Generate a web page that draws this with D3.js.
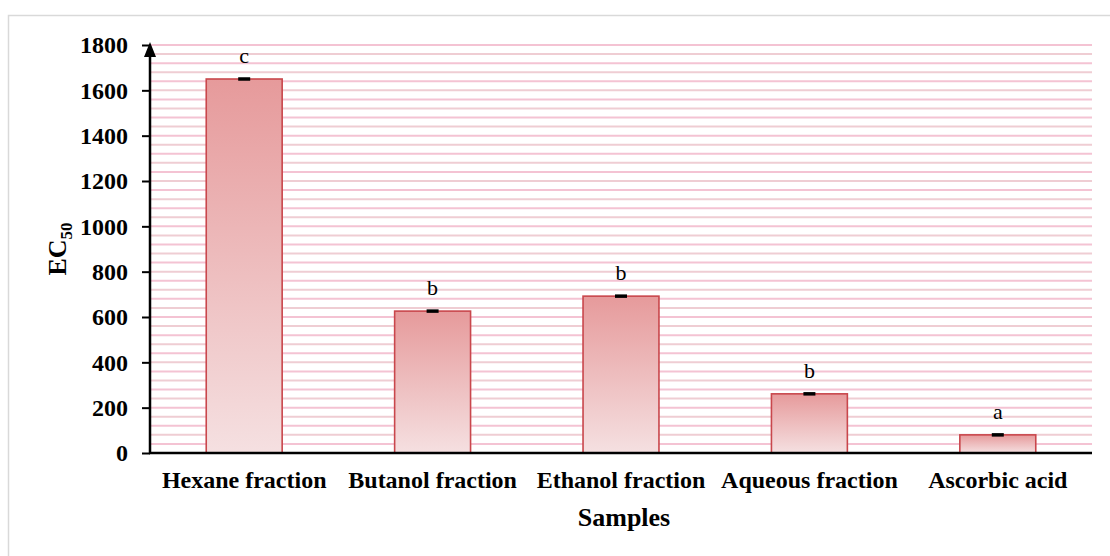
<!DOCTYPE html>
<html>
<head>
<meta charset="utf-8">
<script src="https://cdn.jsdelivr.net/npm/d3@7"></script>
<style>
  html, body { margin: 0; padding: 0; background: #fff; }
  svg { display: block; font-family: "Liberation Serif", "Times New Roman", serif; }
</style>
</head>
<body>
<svg id="chart" width="1110" height="556"></svg>
<script>
// Samples and their EC50 values with significance letters
const categories = ["Hexane fraction", "Butanol fraction", "Ethanol fraction", "Aqueous fraction", "Ascorbic acid"];
const values = [1650, 626, 692, 261, 80];
const letters = ["c", "b", "b", "b", "a"];
const yTicks = [0, 200, 400, 600, 800, 1000, 1200, 1400, 1600, 1800];
const gridStep = 40;

const svg = d3.select("#chart");
const m = { left: 150, right: 1092, top: 45, bottom: 453 };
const serif = "Liberation Serif, Times New Roman, serif";

// outer frame
svg.append("rect")
  .attr("x", 8.5).attr("y", 15.5)
  .attr("width", 1110).attr("height", 560)
  .attr("fill", "#fff").attr("stroke", "#d9d9d9").attr("stroke-width", 1.5);

const x = d3.scaleBand().domain(categories).range([m.left, m.right]).paddingInner(0.597).paddingOuter(0.2985);
const y = d3.scaleLinear().domain([0, 1800]).range([m.bottom, m.top]);

// gradient fill for bars
const defs = svg.append("defs");
const grad = defs.append("linearGradient").attr("id", "barGrad")
  .attr("x1", 0).attr("y1", 0).attr("x2", 0).attr("y2", 1);
grad.append("stop").attr("offset", "0%").attr("stop-color", "#e69a9b");
grad.append("stop").attr("offset", "100%").attr("stop-color", "#f5e0e1");

// horizontal gridlines every 40 units
const gridVals = d3.range(gridStep, 1800 + 1, gridStep);
svg.append("g").selectAll("line").data(gridVals).join("line")
  .attr("x1", m.left).attr("x2", m.right)
  .attr("y1", d => y(d)).attr("y2", d => y(d))
  .attr("stroke", (d, i) => i % 2 ? "#efcdd3" : "#f4c3d3")
  .attr("stroke-width", 2);

// bars
svg.append("g").selectAll("rect").data(categories).join("rect")
  .attr("x", d => x(d))
  .attr("y", (d, i) => y(values[i]))
  .attr("width", x.bandwidth())
  .attr("height", (d, i) => y(0) - y(values[i]))
  .attr("fill", "url(#barGrad)")
  .attr("stroke", "#c9474c")
  .attr("stroke-width", 1.6);

// error bars (very small spread)
const eb = svg.append("g");
categories.forEach((c, i) => {
  const cx = x(c) + x.bandwidth() / 2;
  eb.append("line")
    .attr("x1", cx - 6).attr("x2", cx + 6)
    .attr("y1", y(values[i])).attr("y2", y(values[i]))
    .attr("stroke", "#000").attr("stroke-width", 3.5);
});

// significance letters
svg.append("g").selectAll("text").data(categories).join("text")
  .attr("x", d => x(d) + x.bandwidth() / 2)
  .attr("y", (d, i) => y(values[i]) - 16)
  .attr("text-anchor", "middle")
  .attr("font-size", 22)
  .attr("fill", "#000")
  .text((d, i) => letters[i]);

// y axis
const yAxis = d3.axisLeft(y).tickValues(yTicks).tickSize(8).tickPadding(14).tickFormat(d3.format("d"));
const gy = svg.append("g").attr("transform", `translate(${m.left},0)`).call(yAxis);
gy.select(".domain").remove();
gy.selectAll(".tick line").attr("stroke", "#000").attr("stroke-width", 2);
gy.selectAll(".tick text")
  .attr("font-family", serif)
  .attr("font-size", 24).attr("font-weight", "bold").attr("fill", "#000");
gy.append("line")
  .attr("x1", 0).attr("x2", 0).attr("y1", m.bottom + 1).attr("y2", m.top + 10)
  .attr("stroke", "#000").attr("stroke-width", 2.5);
gy.append("path")
  .attr("d", `M0,${m.top - 3} L-6,${m.top + 12} L6,${m.top + 12} Z`)
  .attr("fill", "#000");

// x axis
const xAxis = d3.axisBottom(x).tickSize(0).tickPadding(18);
const gx = svg.append("g").attr("transform", `translate(0,${m.bottom})`).call(xAxis);
gx.select(".domain").attr("stroke", "#000").attr("stroke-width", 2.5)
  .attr("d", `M${m.left - 1},0H${m.right}`);
gx.selectAll(".tick text")
  .attr("font-family", serif)
  .attr("font-size", 24).attr("font-weight", "bold").attr("fill", "#000");

// axis titles
svg.append("text")
  .attr("x", 624).attr("y", 526)
  .attr("text-anchor", "middle")
  .attr("font-size", 26).attr("font-weight", "bold")
  .text("Samples");

const yt = svg.append("text")
  .attr("transform", `translate(66,249) rotate(-90)`)
  .attr("text-anchor", "middle")
  .attr("font-size", 26).attr("font-weight", "bold");
yt.append("tspan").text("EC");
yt.append("tspan").attr("font-size", 17).attr("dy", 6).text("50");
</script>
</body>
</html>
